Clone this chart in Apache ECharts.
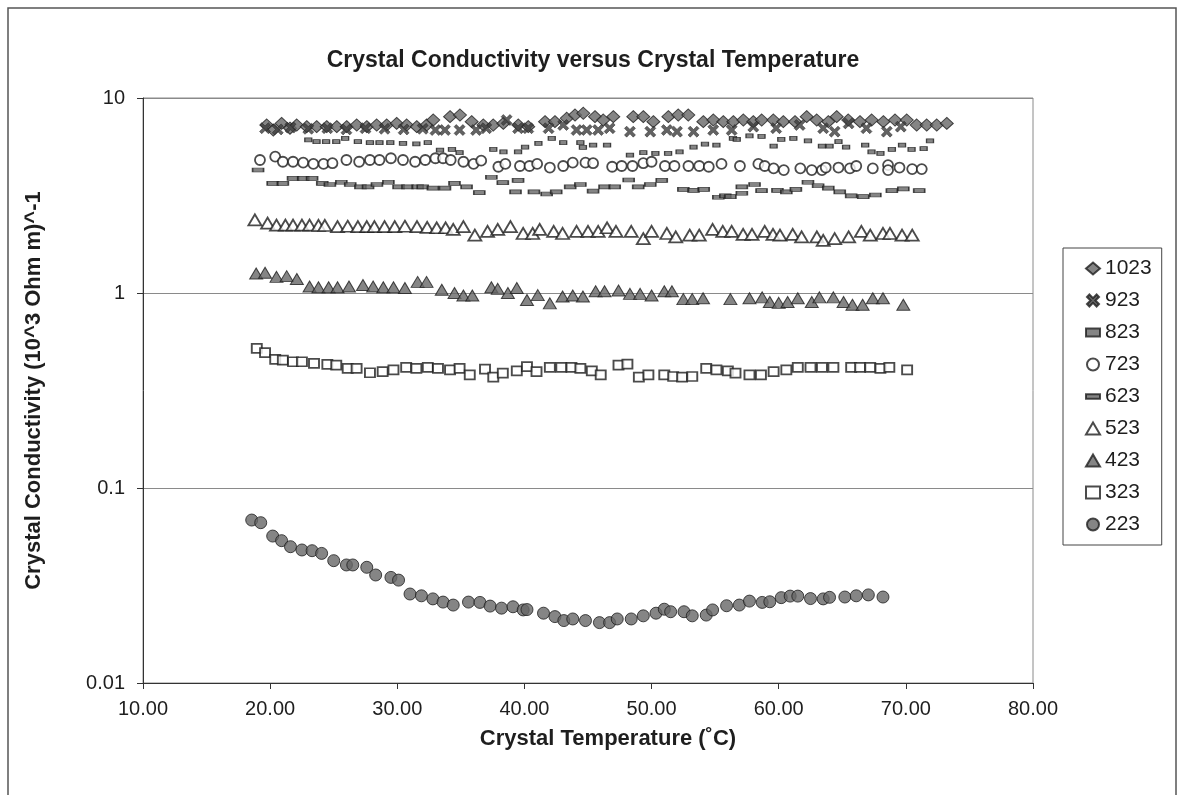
<!DOCTYPE html>
<html>
<head>
<meta charset="utf-8">
<script src="https://cdn.jsdelivr.net/npm/echarts@6/dist/echarts.min.js"></script>
<style>
  html, body { margin: 0; padding: 0; background: #fff; }
  #chart { width: 1184px; height: 795px; }
</style>
</head>
<body>
<div id="chart"></div>
<script>
// Crystal temperature (°C) and conductivity ((10^3 Ohm m)^-1) per run
const t1023 = [19.73, 20.25, 20.9, 21.56, 22.09, 22.88, 23.66, 24.45, 25.24, 26.02, 26.81, 27.6, 28.38, 29.17, 29.95, 30.74, 31.53, 32.31, 32.83, 34.15, 34.93, 35.85, 36.77, 37.55, 38.34, 39.52, 40.3, 41.62, 42.4, 43.33, 43.98, 44.63, 45.55, 46.2, 46.99, 48.56, 49.35, 50.14, 51.32, 52.1, 52.89, 54.07, 54.86, 55.64, 56.43, 57.22, 58.0, 58.66, 59.58, 60.36, 61.28, 62.2, 62.99, 63.9, 64.56, 65.47, 66.39, 67.31, 68.23, 69.15, 70.07, 70.85, 71.64, 72.43, 73.22];
const c1023 = [7.27, 6.85, 7.41, 7.0, 7.27, 7.13, 7.13, 7.13, 7.13, 7.13, 7.27, 7.13, 7.27, 7.27, 7.41, 7.27, 7.13, 7.27, 7.71, 8.02, 8.18, 7.56, 7.27, 7.27, 7.41, 7.27, 7.13, 7.56, 7.56, 7.87, 8.18, 8.35, 8.02, 7.71, 8.02, 8.02, 8.02, 7.56, 8.02, 8.18, 8.18, 7.56, 7.71, 7.56, 7.56, 7.71, 7.56, 7.71, 7.71, 7.56, 7.56, 8.02, 7.71, 7.56, 8.02, 7.71, 7.56, 7.71, 7.56, 7.71, 7.71, 7.27, 7.27, 7.27, 7.41];

const t923 = [19.6, 20.6, 21.6, 23.0, 24.5, 26.0, 27.5, 29.0, 30.5, 32.0, 33.0, 33.75, 34.9, 36.2, 37.0, 38.6, 39.5, 40.3, 41.9, 43.05, 44.1, 44.9, 45.8, 46.7, 48.3, 49.9, 51.2, 52.0, 53.3, 54.85, 56.3, 58.0, 59.8, 61.65, 63.5, 64.4, 65.5, 66.9, 68.5, 69.6];
const c923 = [7.0, 6.9, 7.05, 6.95, 7.0, 6.9, 7.0, 6.95, 6.9, 6.95, 6.85, 6.85, 6.85, 6.85, 7.0, 7.71, 7.0, 7.0, 7.0, 7.27, 6.85, 6.85, 6.85, 7.0, 6.72, 6.72, 6.85, 6.72, 6.72, 6.85, 6.85, 7.13, 7.0, 7.27, 7.0, 6.72, 7.41, 7.0, 6.72, 7.13];

const t823 = [23.0, 23.65, 24.4, 25.2, 25.9, 26.9, 27.85, 28.6, 29.45, 30.45, 31.5, 32.4, 33.36, 34.3, 34.9, 37.55, 38.35, 39.5, 40.05, 41.1, 42.15, 43.05, 44.4, 44.6, 45.4, 46.5, 48.3, 49.35, 50.3, 51.3, 52.2, 53.3, 54.2, 55.1, 56.4, 56.7, 57.7, 58.65, 59.6, 60.2, 61.15, 62.3, 63.4, 64.0, 64.7, 65.3, 66.8, 67.3, 68.0, 68.9, 69.7, 70.45, 71.4, 71.9];
const c823 = [6.1, 5.97, 5.97, 5.97, 6.21, 5.97, 5.9, 5.9, 5.9, 5.86, 5.81, 5.9, 5.41, 5.45, 5.25, 5.45, 5.3, 5.3, 5.6, 5.86, 6.21, 5.9, 5.9, 5.58, 5.74, 5.74, 5.1, 5.25, 5.2, 5.2, 5.3, 5.6, 5.8, 5.74, 6.21, 6.14, 6.4, 6.35, 5.67, 6.14, 6.21, 6.03, 5.67, 5.67, 5.97, 5.6, 5.74, 5.3, 5.2, 5.45, 5.74, 5.45, 5.5, 6.03];

const t723 = [19.2, 20.4, 21.0, 21.8, 22.6, 23.4, 24.2, 24.9, 26.0, 27.0, 27.85, 28.6, 29.5, 30.45, 31.4, 32.2, 33.0, 33.6, 34.2, 35.2, 36.0, 36.6, 37.95, 38.5, 39.65, 40.4, 41.0, 42.0, 43.05, 43.8, 44.8, 45.4, 46.9, 47.65, 48.5, 49.35, 50.0, 51.05, 51.8, 52.9, 53.75, 54.5, 55.5, 56.95, 58.4, 58.9, 59.6, 60.4, 61.7, 62.6, 63.4, 63.7, 64.7, 65.6, 66.1, 67.4, 68.6, 68.6, 69.5, 70.5, 71.25];
const c723 = [4.81, 5.0, 4.71, 4.71, 4.66, 4.59, 4.59, 4.63, 4.81, 4.71, 4.81, 4.81, 4.91, 4.81, 4.71, 4.81, 4.91, 4.91, 4.81, 4.71, 4.59, 4.77, 4.44, 4.59, 4.48, 4.48, 4.59, 4.4, 4.48, 4.66, 4.66, 4.63, 4.44, 4.48, 4.48, 4.63, 4.71, 4.48, 4.48, 4.48, 4.48, 4.44, 4.59, 4.48, 4.59, 4.48, 4.36, 4.27, 4.36, 4.27, 4.27, 4.4, 4.4, 4.36, 4.48, 4.36, 4.53, 4.27, 4.4, 4.32, 4.32];

const t623 = [19.05, 20.2, 21.0, 21.8, 22.6, 23.3, 24.1, 24.7, 25.6, 26.3, 27.1, 27.7, 28.4, 29.3, 30.1, 30.8, 31.6, 32.0, 32.8, 33.75, 34.5, 35.45, 36.45, 37.4, 38.3, 39.3, 39.5, 40.75, 41.75, 42.5, 43.6, 44.4, 45.4, 46.3, 47.1, 48.2, 48.95, 49.9, 50.8, 52.5, 53.3, 54.1, 55.25, 55.8, 56.2, 57.1, 57.1, 58.1, 58.65, 59.9, 60.6, 61.35, 62.3, 63.1, 63.9, 64.8, 65.7, 66.65, 67.6, 68.9, 69.8, 71.05];
const c623 = [4.27, 3.65, 3.65, 3.87, 3.87, 3.87, 3.65, 3.6, 3.7, 3.6, 3.5, 3.5, 3.6, 3.7, 3.5, 3.5, 3.5, 3.5, 3.45, 3.45, 3.65, 3.5, 3.27, 3.92, 3.68, 3.3, 3.78, 3.3, 3.22, 3.3, 3.5, 3.6, 3.33, 3.5, 3.5, 3.8, 3.5, 3.6, 3.78, 3.4, 3.36, 3.4, 3.1, 3.15, 3.12, 3.25, 3.5, 3.6, 3.35, 3.36, 3.3, 3.4, 3.7, 3.55, 3.45, 3.3, 3.15, 3.12, 3.18, 3.35, 3.42, 3.35];

const t523 = [18.8, 19.8, 20.5, 21.2, 21.8, 22.5, 23.1, 23.8, 24.3, 25.3, 26.1, 26.9, 27.6, 28.2, 29.0, 29.8, 30.6, 31.55, 32.35, 33.1, 33.8, 34.4, 35.2, 36.1, 37.1, 37.9, 38.9, 39.9, 40.65, 41.2, 42.3, 43.0, 44.1, 45.0, 45.8, 46.5, 47.2, 48.4, 49.35, 50.0, 51.2, 51.9, 53.0, 53.75, 54.8, 55.6, 56.3, 57.2, 57.9, 58.9, 59.55, 60.1, 61.1, 61.8, 63.0, 63.5, 64.4, 65.5, 66.5, 67.2, 68.2, 68.75, 69.7, 70.5];
const c523 = [2.37, 2.28, 2.23, 2.23, 2.23, 2.23, 2.23, 2.22, 2.22, 2.19, 2.2, 2.19, 2.19, 2.19, 2.19, 2.19, 2.2, 2.19, 2.17, 2.16, 2.16, 2.12, 2.19, 1.98, 2.07, 2.12, 2.19, 2.02, 2.02, 2.12, 2.07, 2.02, 2.07, 2.07, 2.07, 2.16, 2.07, 2.07, 1.9, 2.07, 2.02, 1.94, 1.98, 1.98, 2.12, 2.07, 2.07, 2.0, 2.0, 2.07, 2.0, 1.98, 2.0, 1.94, 1.94, 1.86, 1.9, 1.94, 2.07, 1.98, 2.02, 2.02, 1.98, 1.98];

const t423 = [18.9, 19.6, 20.5, 21.3, 22.1, 23.1, 23.8, 24.6, 25.3, 26.2, 27.3, 28.1, 28.9, 29.7, 30.6, 31.6, 32.3, 33.5, 34.5, 35.2, 35.9, 37.4, 37.9, 38.7, 39.4, 40.2, 41.05, 42.0, 43.0, 43.8, 44.6, 45.6, 46.3, 47.4, 48.3, 49.1, 50.0, 51.0, 51.6, 52.5, 53.2, 54.05, 56.2, 57.7, 58.7, 59.3, 60.0, 60.7, 61.5, 62.6, 63.2, 64.3, 65.1, 65.8, 66.6, 67.4, 68.2, 69.8];
const c423 = [1.26, 1.27, 1.21, 1.22, 1.18, 1.08, 1.07, 1.07, 1.07, 1.08, 1.1, 1.08, 1.07, 1.07, 1.06, 1.14, 1.14, 1.04, 1.0, 0.97, 0.97, 1.07, 1.05, 1.0, 1.06, 0.92, 0.975, 0.885, 0.96, 0.97, 0.96, 1.02, 1.02, 1.03, 0.99, 0.99, 0.97, 1.02, 1.02, 0.93, 0.93, 0.94, 0.93, 0.94, 0.95, 0.9, 0.89, 0.9, 0.94, 0.9, 0.95, 0.95, 0.9, 0.87, 0.87, 0.94, 0.94, 0.87];

const t323 = [18.95, 19.6, 20.4, 21.0, 21.8, 22.5, 23.45, 24.5, 25.2, 26.1, 26.8, 27.85, 28.85, 29.7, 30.7, 31.5, 32.4, 33.2, 34.15, 34.9, 35.7, 36.9, 37.55, 38.3, 39.4, 40.2, 40.95, 42.0, 42.9, 43.7, 44.4, 45.3, 46.0, 47.4, 48.1, 49.0, 49.75, 51.0, 51.7, 52.4, 53.2, 54.3, 55.1, 56.0, 56.6, 57.7, 58.6, 59.6, 60.6, 61.5, 62.5, 63.4, 64.3, 65.7, 66.4, 67.2, 68.0, 68.7, 70.1];
const c323 = [0.52, 0.494, 0.457, 0.453, 0.444, 0.444, 0.436, 0.431, 0.427, 0.411, 0.411, 0.39, 0.395, 0.403, 0.416, 0.411, 0.416, 0.411, 0.403, 0.411, 0.38, 0.407, 0.37, 0.388, 0.399, 0.419, 0.395, 0.416, 0.416, 0.416, 0.411, 0.399, 0.38, 0.427, 0.432, 0.37, 0.38, 0.38, 0.373, 0.37, 0.373, 0.411, 0.403, 0.399, 0.388, 0.38, 0.38, 0.395, 0.403, 0.416, 0.416, 0.416, 0.416, 0.416, 0.416, 0.416, 0.411, 0.416, 0.403];

const t223 = [18.55, 19.26, 20.2, 20.9, 21.6, 22.5, 23.3, 24.05, 25.0, 26.0, 26.5, 27.6, 28.3, 29.5, 30.1, 31.0, 31.9, 32.8, 33.6, 34.4, 35.6, 36.5, 37.3, 38.2, 39.1, 39.9, 40.2, 41.5, 42.4, 43.1, 43.8, 44.8, 45.9, 46.7, 47.3, 48.4, 49.35, 50.35, 51.0, 51.5, 52.55, 53.2, 54.3, 54.8, 55.9, 56.9, 57.7, 58.7, 59.3, 60.2, 60.9, 61.5, 62.5, 63.5, 64.0, 65.2, 66.1, 67.05, 68.2];
const c223 = [0.0685, 0.0664, 0.0567, 0.0537, 0.05, 0.0481, 0.0477, 0.0462, 0.0424, 0.0403, 0.0403, 0.0392, 0.0358, 0.0348, 0.0337, 0.0286, 0.028, 0.027, 0.026, 0.0251, 0.026, 0.0259, 0.0248, 0.0242, 0.0246, 0.0237, 0.0238, 0.0228, 0.0219, 0.0209, 0.0213, 0.0209, 0.0204, 0.0204, 0.0213, 0.0213, 0.0221, 0.0228, 0.0239, 0.0232, 0.0232, 0.0221, 0.0223, 0.0237, 0.0249, 0.0251, 0.0263, 0.0259, 0.0261, 0.0274, 0.0279, 0.0279, 0.0271, 0.027, 0.0275, 0.0276, 0.028, 0.0283, 0.0276];

const xTickLabels = ['10.00', '20.00', '30.00', '40.00', '50.00', '60.00', '70.00', '80.00'];
const yTickLabels = ['0.01', '0.1', '1', '10'];

const FONT = '"Liberation Sans", Arial, sans-serif';
const INK = '#1e1e1e';
const FILL = '#666666';

const CROSS = 'path://M2,0 L5,3 L8,0 L10,2 L7,5 L10,8 L8,10 L5,7 L2,10 L0,8 L3,5 L0,2 Z';
const LONG_DASH = 'path://M0,0 L12,0 L12,4 L0,4 Z';
const SHORT_DASH = 'path://M0,0 L7,0 L7,4 L0,4 Z';

const filled = { color: FILL, borderColor: INK, borderWidth: 1 };
const hollow = { color: '#ffffff', borderColor: INK, borderWidth: 1.8 };

const runs = [
  { name: '1023', t: t1023, c: c1023, symbol: 'diamond', size: [13, 12], style: filled },
  { name: '923', t: t923, c: c923, symbol: CROSS, size: 11, style: { color: '#3c3c3c', borderColor: INK, borderWidth: 0.6 } },
  { name: '823', t: t823, c: c823, symbol: SHORT_DASH, size: [7, 4], style: filled },
  { name: '723', t: t723, c: c723, symbol: 'circle', size: 10, style: hollow },
  { name: '623', t: t623, c: c623, symbol: LONG_DASH, size: [11, 4], style: filled },
  { name: '523', t: t523, c: c523, symbol: 'triangle', size: [13, 11], style: hollow },
  { name: '423', t: t423, c: c423, symbol: 'triangle', size: [13, 11], style: filled },
  { name: '323', t: t323, c: c323, symbol: 'rect', size: [10, 9], style: hollow },
  { name: '223', t: t223, c: c223, symbol: 'circle', size: 12, style: filled }
];

const chart = echarts.init(document.getElementById('chart'), null, { renderer: 'canvas' });

chart.setOption({
  backgroundColor: '#ffffff',
  animation: false,
  textStyle: { fontFamily: FONT, color: INK },
  title: {
    text: 'Crystal Conductivity versus Crystal Temperature',
    left: 588,
    textAlign: 'center',
    top: 44,
    textStyle: { fontFamily: FONT, fontSize: 23, fontWeight: 'bold', color: INK }
  },
  graphic: [{
    type: 'rect',
    shape: { x: 8, y: 8, width: 1168, height: 795 },
    style: { fill: 'none', stroke: '#555', lineWidth: 1.5 },
    silent: true
  }],
  grid: {
    left: 143, right: 151, top: 98, bottom: 112,
    show: true, borderColor: '#8a8a8a', borderWidth: 1
  },
  legend: {
    orient: 'vertical',
    left: 1063,
    top: 248,
    padding: [10, 10, 10, 22],
    itemGap: 11,
    itemWidth: 14,
    itemHeight: 12,
    borderColor: '#444',
    borderWidth: 1,
    backgroundColor: '#fff',
    textStyle: { fontFamily: FONT, fontSize: 21, lineHeight: 20, color: INK },
    data: runs.map(r => r.name)
  },
  xAxis: {
    type: 'value',
    min: 10, max: 80, interval: 10,
    name: 'Crystal Temperature (˚C)',
    nameLocation: 'middle',
    nameGap: 45,
    nameTextStyle: { fontFamily: FONT, fontSize: 22, fontWeight: 'bold', color: INK, padding: [0, 0, 0, 40] },
    axisLine: { show: true, onZero: false, lineStyle: { color: '#333', width: 1 } },
    axisTick: { show: true, inside: false, length: 6, lineStyle: { color: '#333' } },
    axisLabel: {
      margin: 16, fontSize: 20, color: INK, fontFamily: FONT,
      formatter: v => xTickLabels[Math.round((v - 10) / 10)]
    },
    splitLine: { show: false }
  },
  yAxis: {
    type: 'log',
    logBase: 10,
    min: 0.01, max: 10,
    name: 'Crystal Conductivity (10^3 Ohm m)^-1',
    nameLocation: 'middle',
    nameGap: 98,
    nameRotate: 90,
    nameTextStyle: { fontFamily: FONT, fontSize: 22, fontWeight: 'bold', color: INK },
    axisLine: { show: true, lineStyle: { color: '#333', width: 1 } },
    axisTick: { show: true, inside: false, length: 6, lineStyle: { color: '#333' } },
    axisLabel: {
      margin: 18, fontSize: 20, color: INK, fontFamily: FONT,
      formatter: v => yTickLabels[Math.round(Math.log10(v)) + 2]
    },
    minorTick: { show: false },
    splitLine: { show: true, lineStyle: { color: '#8a8a8a', width: 1 } }
  },
  series: runs.map(r => ({
    name: r.name,
    type: 'scatter',
    symbol: r.symbol,
    symbolSize: r.size,
    itemStyle: r.style,
    emphasis: { disabled: true },
    data: r.t.map((t, i) => [t, r.c[i]])
  }))
});
</script>
</body>
</html>
